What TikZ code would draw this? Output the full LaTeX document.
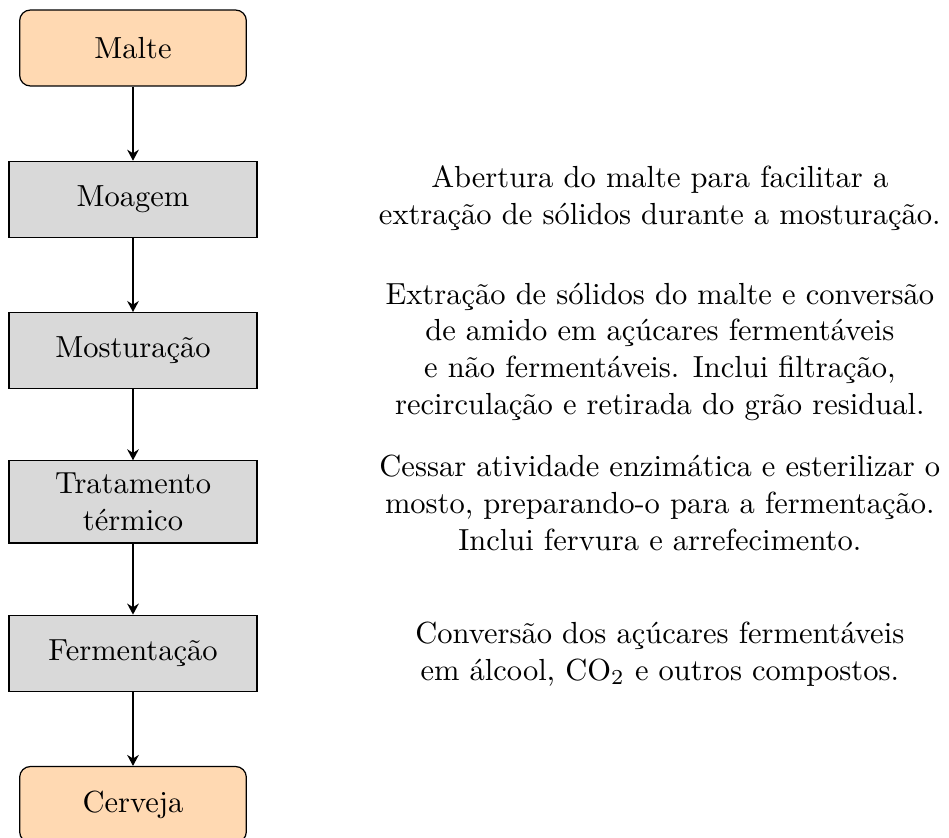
\documentclass[tikz,border=0pt]{standalone}
\usetikzlibrary{arrows.meta}
\begin{document}
\begin{tikzpicture}[x=1pt,y=1pt,
  endbox/.style={draw=black, fill=orange!30, rounded corners=3.5pt, minimum width=74.3pt, minimum height=24.9pt, align=center},
  procbox/.style={draw=black, fill=gray!30, minimum width=81.3pt, minimum height=24.9pt, align=center},
  desc/.style={align=center, inner sep=0pt},
  flow/.style={thick, -{Stealth[length=3.6pt,width=3.8pt]}}]
\useasboundingbox (0,0) rectangle (311.1,-274.4);
\node[endbox]  (malte)  at (43.6,-15.74)  {Malte};
\node[procbox] (moagem) at (43.6,-65.34)  {Moagem};
\node[procbox] (most)   at (43.6,-114.94) {Mosturação};
\node[procbox, minimum height=26.9pt] (trat) at (43.6,-164.54) {Tratamento\\térmico};
\node[procbox] (ferm)   at (43.6,-214.14) {Fermentação};
\node[endbox]  (cerv)   at (43.6,-263.74) {Cerveja};

\draw[flow] (malte) -- (moagem);
\draw[flow] (moagem) -- (most);
\draw[flow] (most) -- (trat);
\draw[flow] (trat) -- (ferm);
\draw[flow] (ferm) -- (cerv);

\node[desc] (d1) at (216.3,-65.0) {Abertura do malte para facilitar a\\extração de sólidos durante a mosturação.};
\node[desc] (d2) at (216.3,-115.3) {Extração de sólidos do malte e conversão\\de amido em açúcares fermentáveis\\e não fermentáveis. Inclui filtração,\\recirculação e retirada do grão residual.};
\node[desc] (d3) at (216.3,-164.9) {Cessar atividade enzimática e esterilizar o\\mosto, preparando-o para a fermentação.\\Inclui fervura e arrefecimento.};
\node[desc] (d4) at (216.3,-214.4) {Conversão dos açúcares fermentáveis\\em álcool, CO$_2$ e outros compostos.};
\end{tikzpicture}
\end{document}
